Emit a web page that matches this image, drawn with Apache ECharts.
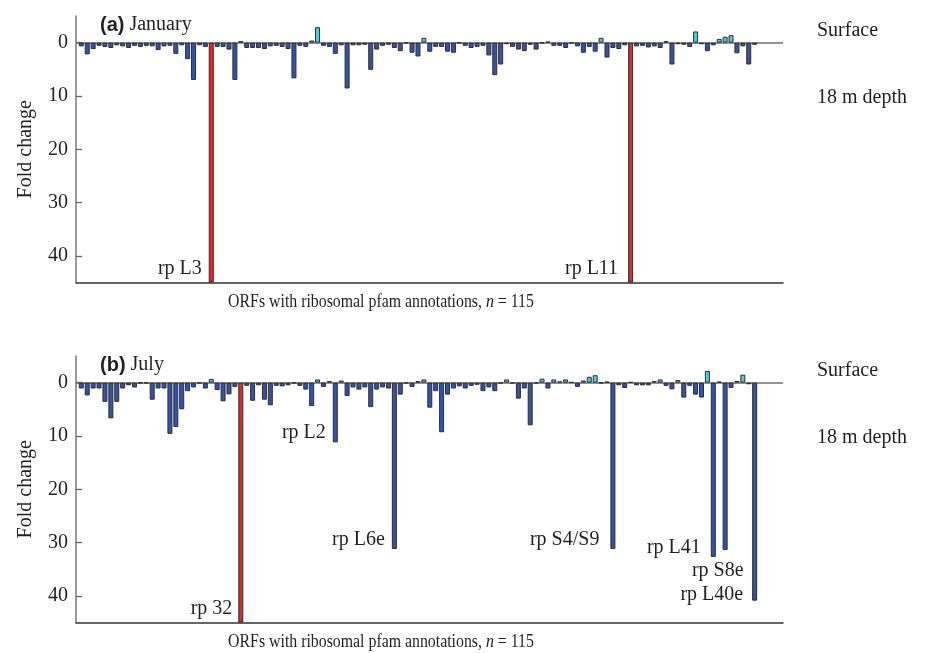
<!DOCTYPE html>
<html>
<head>
<meta charset="utf-8">
<script src="https://cdn.jsdelivr.net/npm/echarts@6.0.0/dist/echarts.min.js"></script>
<style>
  html, body { margin: 0; padding: 0; background: #ffffff; }
  #chart { width: 927px; height: 653px; }
</style>
</head>
<body>
<div id="chart"></div>
<script>
// ---- Data (fold change; positive = higher at 18 m depth, negative = higher at surface) ----
const orfCount = 115;
const janValues = [
  0.7, 2.2, 1.2, 0.6, 0.8, 1.0, 0.5, 0.7, 1.0, 0.6,
  0.8, 0.6, 0.7, 1.4, 0.7, 0.6, 2.1, 0.5, 3.1, 7.0,
  0.5, 0.8, 45, 0.8, 0.8, 1.3, 7.0, -0.3, 1.0, 1.0,
  1.0, 1.2, 0.7, 0.6, 0.8, 1.2, 6.7, 0.6, 0.8, -0.4,
  -2.9, 0.6, 0.8, 2.1, 0.5, 8.6, 0.5, 0.5, 0.4, 5.1,
  1.3, 0.6, 0.4, 1.0, 1.6, 0.1, 1.9, 2.6, -0.9, 1.7,
  0.8, 0.8, 1.7, 1.9, 0.1, 0.6, 1.0, 0.8, 0.6, 2.4,
  6.1, 4.1, 0.3, 0.8, 1.3, 1.6, 0.4, 1.3, 0.1, -0.2,
  0.6, 0.6, 1.0, 0.1, 0.7, 1.9, 0.8, 1.7, -0.9, 2.8,
  1.0, 1.2, 0.5, 45, 0.7, 0.6, 0.9, 0.7, 1.0, -0.3,
  4.1, 0.3, 0.4, 0.8, -2.1, 0.3, 1.6, 0.5, -0.7, -1.1,
  -1.4, 2.0, 0.7, 4.1, 0.4
];
const julValues = [
  1.1, 2.4, 1.1, 1.1, 3.6, 6.7, 3.6, 1.1, 0.5, 0.9,
  0.1, 0.1, 3.2, 1.1, 1.1, 9.6, 8.35, 5.0, 1.6, 0.9,
  0.1, 1.1, -0.7, 1.4, 3.5, 2.2, 0.8, 45, 0.6, 3.4,
  0.5, 3.2, 4.25, 0.6, 0.7, 0.5, 0.1, 0.6, 1.3, 4.4,
  -0.6, 0.8, -0.3, 11.2, -0.4, 2.5, 0.9, 1.3, 0.9, 4.6,
  1.3, 0.9, 1.1, 31.2, 2.25, 0.1, 0.8, -0.3, -0.6, 4.7,
  1.6, 9.3, 2.25, 1.1, 0.7, 1.1, 0.6, 0.4, 1.6, 0.9,
  1.6, 0.1, -0.6, 0.1, 3.0, 1.1, 8.0, 0.1, -0.75, 1.1,
  -0.6, -0.25, -0.6, -0.1, 0.8, -0.4, -1.1, -1.4, 0.1, -0.2,
  31.2, 0.5, 1.0, -0.1, 0.5, 0.5, 0.5, -0.3, -0.6, 0.6,
  1.25, -0.5, 2.8, 0.6, 2.25, 2.8, -2.2, 32.7, -0.2, 31.4,
  1.0, -0.3, -1.5, 0.3, 40.9
];
// 1-based ORF positions of highlighted (red) bars
const janHighlight = [23, 94];
const julHighlight = [28];
// annotated ORFs: position (1-based) and label
const janLabelIdx = [23, 94];
const janLabelText = ['rp L3', 'rp L11'];
const julLabelIdx = [28, 44, 54, 91, 108, 110, 115];
const julLabelText = ['rp 32', 'rp L2', 'rp L6e', 'rp S4/S9', 'rp L41', 'rp S8e', 'rp L40e'];
const yTicks = [0, 10, 20, 30, 40];
const panelTitles = ['(a)', '(b)'];
const panelMonths = ['January', 'July'];
const xTitle = 'ORFs with ribosomal pfam annotations, ';
const sideTop = 'Surface';
const sideBottom = '18 m depth';

// ---- Styling / layout (not data) ----
const SERIF = '"Liberation Serif", "Times New Roman", serif';
const SANS = '"Liberation Sans", Arial, sans-serif';
const BLUE = '#3553a6';
const CYAN = '#5cc8d6';
const RED = '#e8262b';
// label placement relative to bar rect [dx from bar left, dy from bar bottom]
const labelPlace = {
  'rp L3': [-7, -14], 'rp L11': [-10, -14],
  'rp 32': [-6, -14], 'rp L2': [-7, -10], 'rp L6e': [-7, -9],
  'rp S4/S9': [-11, -9], 'rp L41': [-10, -9], 'rp S8e': [21, 21], 'rp L40e': [-9, -6]
};

function buildData(values, highlight, labelIdx, labelText) {
  return values.map((v, i) => {
    const pos = i + 1;
    let color = v < 0 ? CYAN : BLUE;
    if (highlight.indexOf(pos) >= 0) color = RED;
    const item = { value: [pos, v], itemStyle: { color: color } };
    const li = labelIdx.indexOf(pos);
    if (li >= 0) {
      const t = labelText[li];
      const p = labelPlace[t] || [-8, -10];
      item.label = {
        show: true, formatter: t, position: [p[0], '100%'], offset: [0, p[1]],
        align: 'right', verticalAlign: 'middle',
        fontFamily: SERIF, fontSize: 20, color: '#231f20'
      };
    }
    return item;
  });
}

const gridTops = [16, 356];
const gridH = 266.5;

const grids = gridTops.map(t => ({ left: 76, top: t, width: 707, height: gridH, containLabel: false }));
const xAxes = gridTops.map((t, k) => ({
  type: 'value', gridIndex: k, min: 0.1, max: 119.8,
  axisLine: { show: true, onZero: false, lineStyle: { color: '#333', width: 1.5 } },
  axisTick: { show: false }, axisLabel: { show: false }, splitLine: { show: false }
}));
const yAxes = gridTops.map((t, k) => ({
  type: 'value', gridIndex: k, inverse: true, min: -5, max: 45, interval: 5,
  name: 'Fold change', nameLocation: 'middle', nameGap: 40,
  nameTextStyle: { fontFamily: SERIF, fontSize: 20, color: '#231f20' },
  axisLine: { show: true, lineStyle: { color: '#777', width: 1.5 } },
  axisTick: { show: true, inside: true, length: 6, customValues: yTicks, lineStyle: { color: '#666', width: 1.3 } },
  axisLabel: { show: true, customValues: yTicks, margin: 8, fontFamily: SERIF, fontSize: 20, color: '#231f20' },
  splitLine: { show: false }
}));

const panels = [
  buildData(janValues, janHighlight, janLabelIdx, janLabelText),
  buildData(julValues, julHighlight, julLabelIdx, julLabelText)
];

const series = panels.map((d, k) => ({
  type: 'bar', xAxisIndex: k, yAxisIndex: k, data: d,
  barWidth: 5, clip: true,
  itemStyle: { borderColor: '#2e2e2e', borderWidth: 1 },
  label: { show: false },
  emphasis: { disabled: true },
  markLine: {
    silent: true, symbol: ['none', 'none'], label: { show: false },
    lineStyle: { color: '#6e6e6e', width: 1.5, type: 'solid' },
    data: [{ yAxis: 0 }], z: 1
  },
  animation: false
}));

const graphics = [];
gridTops.forEach((t, k) => {
  const zeroY = t + 5 * gridH / 50;
  graphics.push({
    type: 'text', x: 100, y: t + 9, style: {
      text: '{b|' + panelTitles[k] + '} ' + panelMonths[k],
      font: '20px ' + SERIF, fill: '#231f20', verticalAlign: 'middle',
      rich: { b: { fontFamily: SANS, fontWeight: 'bold', fontSize: 20, fill: '#231f20' } }
    }
  });
  graphics.push({ type: 'text', x: 817, y: zeroY - 12, style: { text: sideTop, font: '20px ' + SERIF, fill: '#231f20', verticalAlign: 'middle' } });
  graphics.push({ type: 'text', x: 817, y: zeroY + 55, style: { text: sideBottom, font: '20px ' + SERIF, fill: '#231f20', verticalAlign: 'middle' } });
  graphics.push({
    type: 'text', x: 381, y: t + gridH + 20, scaleX: 0.88, style: {
      text: xTitle + '{i|n} = ' + orfCount,
      font: '18px ' + SERIF, fill: '#231f20', align: 'center', verticalAlign: 'middle',
      rich: { i: { fontFamily: SERIF, fontStyle: 'italic', fontSize: 18, fill: '#231f20' } }
    }
  });
});

const chart = echarts.init(document.getElementById('chart'), null, { renderer: 'canvas' });
chart.setOption({
  animation: false,
  backgroundColor: '#ffffff',
  grid: grids, xAxis: xAxes, yAxis: yAxes, series: series, graphic: graphics
});
</script>
</body>
</html>
